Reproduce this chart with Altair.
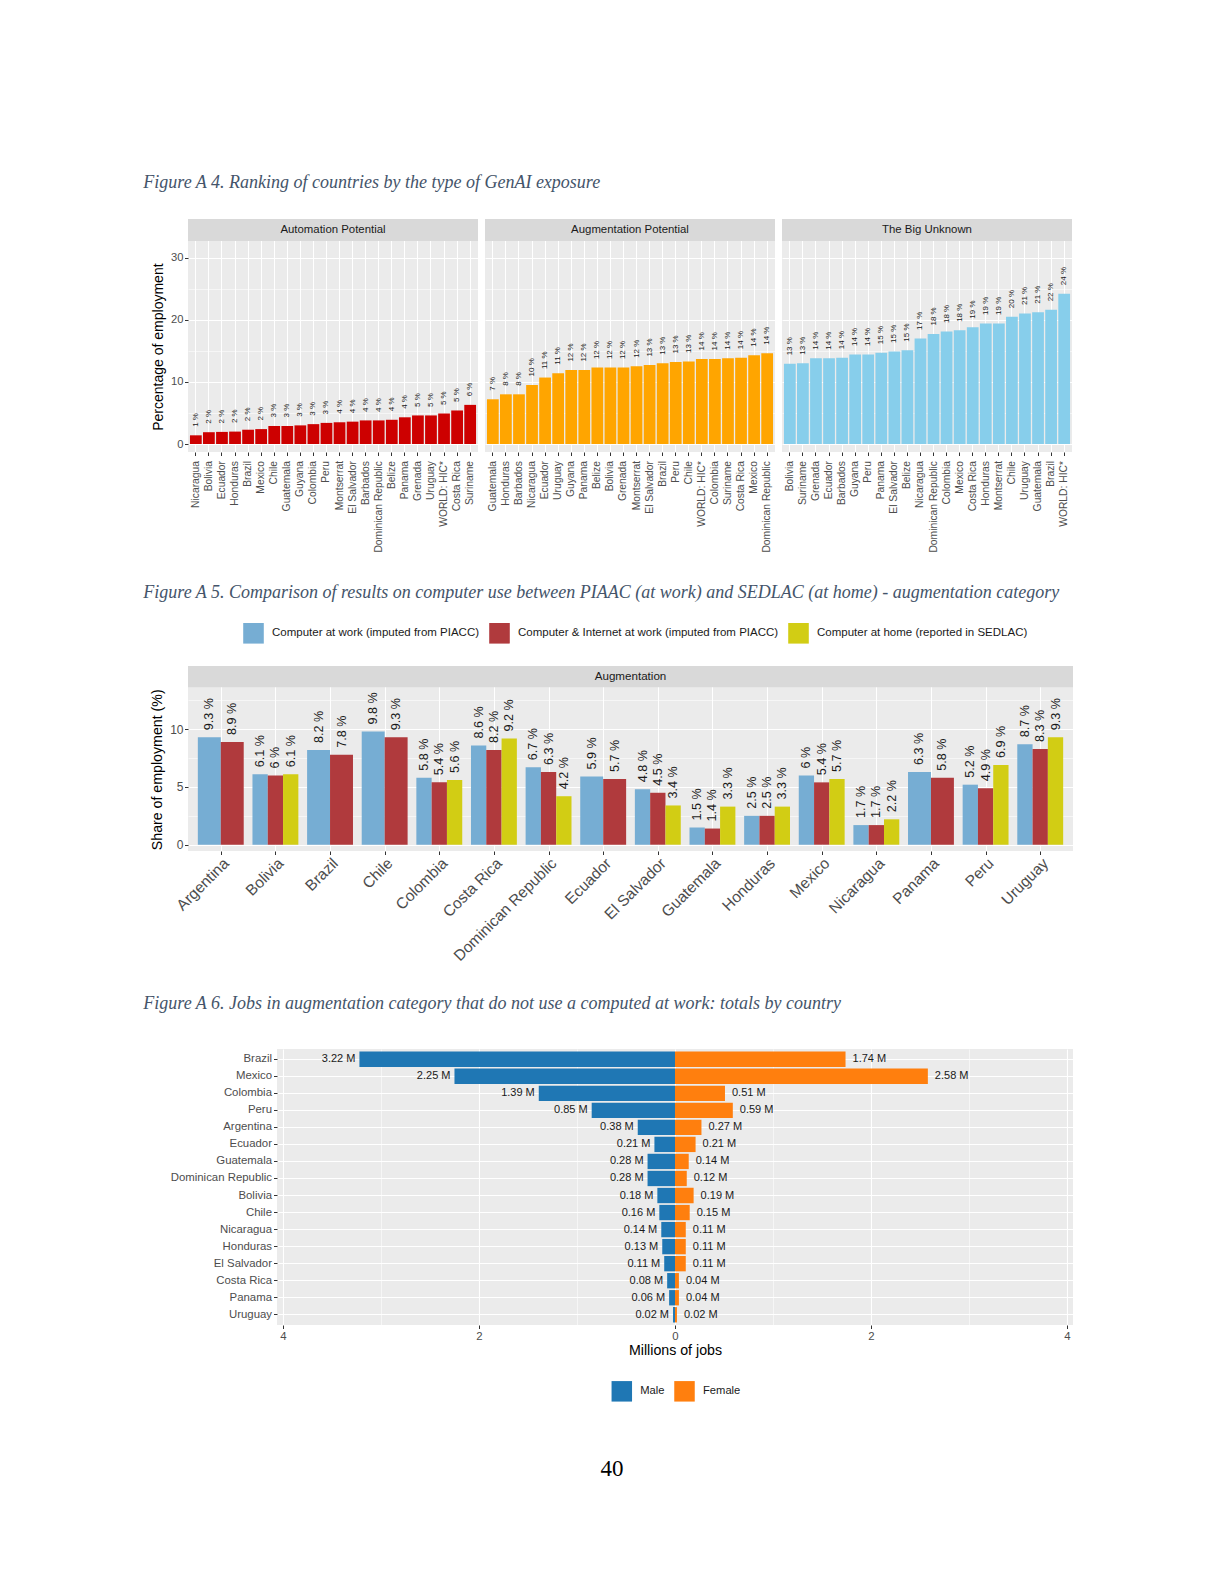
import altair as alt
import pandas as pd

FONT = "Liberation Sans"
SERIF = "Liberation Serif"
CAP_COLOR = "#44546A"
PANEL_BG = "#EBEBEB"
STRIP_BG = "#D9D9D9"
AXIS_TXT = "#4D4D4D"
TICK_COL = "#333333"
TXT = "#1A1A1A"

# ---------------- Figure A4 data ----------------
A4_CAPTION = "Figure A 4. Ranking of countries by the type of GenAI exposure"
A4_PANELS = ["Automation Potential", "Augmentation Potential", "The Big Unknown"]
A4_COLORS = ["#CD0000", "#FFA500", "#87CEEB"]

auto_countries = ["Nicaragua", "Bolivia", "Ecuador", "Honduras", "Brazil", "Mexico", "Chile",
                  "Guatemala", "Guyana", "Colombia", "Peru", "Montserrat", "El Salvador",
                  "Barbados", "Dominican Republic", "Belize", "Panama", "Grenada", "Uruguay",
                  "WORLD: HIC*", "Costa Rica", "Suriname"]
auto_values = [1.4, 1.9, 1.95, 2.0, 2.3, 2.4, 2.9, 2.9, 3.0, 3.2, 3.4, 3.5, 3.6, 3.8, 3.8,
               3.9, 4.3, 4.6, 4.6, 4.9, 5.4, 6.3]
auto_labels = [1, 2, 2, 2, 2, 2, 3, 3, 3, 3, 3, 4, 4, 4, 4, 4, 4, 5, 5, 5, 5, 6]

aug_countries = ["Guatemala", "Honduras", "Barbados", "Nicaragua", "Ecuador", "Uruguay", "Guyana",
                 "Panama", "Belize", "Bolivia", "Grenada", "Montserrat", "El Salvador", "Brazil",
                 "Peru", "Chile", "WORLD: HIC*", "Colombia", "Suriname", "Costa Rica", "Mexico",
                 "Dominican Republic"]
aug_values = [7.2, 8.0, 8.0, 9.5, 10.7, 11.4, 11.9, 11.9, 12.3, 12.3, 12.3, 12.5, 12.7, 13.0,
              13.2, 13.3, 13.7, 13.7, 13.8, 13.9, 14.3, 14.6]
aug_labels = [7, 8, 8, 10, 11, 11, 12, 12, 12, 12, 12, 12, 13, 13, 13, 13, 14, 14, 14, 14, 14, 14]

unk_countries = ["Bolivia", "Suriname", "Grenada", "Ecuador", "Barbados", "Guyana", "Peru",
                 "Panama", "El Salvador", "Belize", "Nicaragua", "Dominican Republic", "Colombia",
                 "Mexico", "Costa Rica", "Honduras", "Montserrat", "Chile", "Uruguay", "Guatemala",
                 "Brazil", "WORLD: HIC*"]
unk_values = [12.9, 13.0, 13.8, 13.8, 13.9, 14.4, 14.4, 14.7, 14.9, 15.1, 17.0, 17.7, 18.1, 18.3,
              18.8, 19.4, 19.4, 20.5, 21.0, 21.2, 21.6, 24.2]
unk_labels = [13, 13, 14, 14, 14, 14, 14, 15, 15, 15, 17, 18, 18, 18, 19, 19, 19, 20, 21, 21, 22, 24]

# ---------------- Figure A5 data ----------------
A5_CAPTION = ("Figure A 5. Comparison of results on computer use between PIAAC (at work) and "
              "SEDLAC (at home) - augmentation category")
A5_STRIP = "Augmentation"
a5_series = ["Computer at work (imputed from PIACC)",
             "Computer & Internet at work (imputed from PIACC)",
             "Computer at home (reported in SEDLAC)"]
a5_colors = ["#76ADD3", "#B03A3D", "#D2CD14"]
a5_countries = ["Argentina", "Bolivia", "Brazil", "Chile", "Colombia", "Costa Rica",
                "Dominican Republic", "Ecuador", "El Salvador", "Guatemala", "Honduras",
                "Mexico", "Nicaragua", "Panama", "Peru", "Uruguay"]
a5_work = [9.3, 6.1, 8.2, 9.8, 5.8, 8.6, 6.7, 5.9, 4.8, 1.5, 2.5, 6.0, 1.7, 6.3, 5.2, 8.7]
a5_internet = [8.9, 6.0, 7.8, 9.3, 5.4, 8.2, 6.3, 5.7, 4.5, 1.4, 2.5, 5.4, 1.7, 5.8, 4.9, 8.3]
a5_home = [None, 6.1, None, None, 5.6, 9.2, 4.2, None, 3.4, 3.3, 3.3, 5.7, 2.2, None, 6.9, 9.3]

# ---------------- Figure A6 data ----------------
A6_CAPTION = ("Figure A 6. Jobs in augmentation category that do not use a computed at work: "
              "totals by country")
a6_countries = ["Brazil", "Mexico", "Colombia", "Peru", "Argentina", "Ecuador", "Guatemala",
                "Dominican Republic", "Bolivia", "Chile", "Nicaragua", "Honduras", "El Salvador",
                "Costa Rica", "Panama", "Uruguay"]
a6_male = [3.22, 2.25, 1.39, 0.85, 0.38, 0.21, 0.28, 0.28, 0.18, 0.16, 0.14, 0.13, 0.11, 0.08,
           0.06, 0.02]
a6_female = [1.74, 2.58, 0.51, 0.59, 0.27, 0.21, 0.14, 0.12, 0.19, 0.15, 0.11, 0.11, 0.11, 0.04,
             0.04, 0.02]
a6_sexes = ["Male", "Female"]
a6_colors = ["#1F77B4", "#FF7F0E"]
PAGE_NUMBER = "40"

dummy = pd.DataFrame({"k": [0]})


def grid_axis(orient, values=None, width=1.1):
    kw = dict(orient=orient, grid=True, gridColor="white", gridWidth=width, labels=False,
              ticks=False, domain=False, title=None)
    if values is not None:
        kw["values"] = values
    return alt.Axis(**kw)


def caption(text, x, y):
    df = pd.DataFrame({"t": [text]})
    return alt.Chart(df).mark_text(align="left", baseline="alphabetic", font=SERIF,
                                   fontStyle="italic", fontSize=18, color=CAP_COLOR).encode(
        x=alt.value(x), y=alt.value(y), text="t:N")


def cut_rule(y1, y2):
    return alt.Chart(dummy).mark_rule(opacity=0, color="white").encode(
        x=alt.value(-60), y=alt.value(y1), y2=alt.value(y2))


# ---------------- caption row for A4 ----------------
row0 = alt.layer(
    caption(A4_CAPTION, -44.7, 37.7), cut_rule(0, 69)
).properties(width=1, height=1,
             view=alt.ViewBackground(fill="white", stroke="white", strokeWidth=0))

# ---------------- A4 panels ----------------
W4, H4, STRIP4 = 290, 233, 22
Y4_DOMAIN = [-1.286, 36.22]


def a4_panel(idx, countries, values, labels):
    df = pd.DataFrame({"country": countries, "value": values,
                       "label": [f"{l} %" for l in labels]})
    xs = alt.Scale(paddingInner=0.1, paddingOuter=0.15)
    ys = alt.Scale(domain=Y4_DOMAIN, nice=False, zero=False)
    xaxis = alt.Axis(title=None, labelAngle=-90, labelAlign="right", labelBaseline="middle",
                     labelFontSize=10.3, labelColor=AXIS_TXT, labelPadding=5, ticks=True,
                     tickSize=3.5, tickColor=TICK_COL, domain=False, grid=True,
                     gridColor="white", gridWidth=1.1, labelLimit=300)
    if idx == 0:
        yaxis = alt.Axis(orient="left", values=[0, 10, 20, 30], grid=True, gridColor="white",
                         gridWidth=1.1, domain=False, ticks=True, tickSize=3.5,
                         tickColor=TICK_COL, labelFontSize=11.2, labelColor=AXIS_TXT,
                         labelPadding=1.5, title="Percentage of employment", titleFontSize=14,
                         titleColor="black", titleFontWeight="normal", titleX=-29.4,
                         titleY=127.6, titleBaseline="middle", titleAlign="center",
                         titleAngle=270)
    else:
        yaxis = alt.Axis(orient="left", values=[0, 10, 20, 30], grid=True, gridColor="white",
                         gridWidth=1.1, domain=False, ticks=False, labels=False, title=None)
    bars = alt.Chart(df).mark_bar(color=A4_COLORS[idx]).encode(
        x=alt.X("country:N", sort=countries, scale=xs, axis=xaxis),
        y=alt.Y("value:Q", scale=ys, axis=yaxis))
    text = alt.Chart(df).mark_text(angle=270, align="left", baseline="middle", dx=8.5,
                                   fontSize=8, color=TXT).encode(
        x=alt.X("country:N", sort=countries, axis=None),
        y=alt.Y("value:Q", axis=grid_axis("right", [5, 15, 25], 0.55)),
        text="label:N")
    sdf = pd.DataFrame({"strip": [A4_PANELS[idx]]})
    srect = alt.Chart(sdf).mark_rect(color=STRIP_BG).encode(
        x=alt.value(0), x2=alt.value(W4), y=alt.value(0), y2=alt.value(STRIP4))
    stext = alt.Chart(sdf).mark_text(fontSize=11.4, color=TXT).encode(
        x=alt.value(W4 / 2), y=alt.value(STRIP4 / 2), text="strip:N")
    layers = [bars, text, srect, stext]
    if idx == 0:
        layers += [cut_rule(0, 351)]
    return alt.layer(*layers).resolve_axis(x="independent", y="independent").properties(
        width=W4, height=H4)


row1 = alt.hconcat(
    a4_panel(0, auto_countries, auto_values, auto_labels),
    a4_panel(1, aug_countries, aug_values, aug_labels),
    a4_panel(2, unk_countries, unk_values, unk_labels),
    spacing=7,
)

# ---------------- A5 ----------------
W5, H5, STRIP5 = 885, 185, 21.3
DODGE = 0.84
rows5 = []
for i, c in enumerate(a5_countries):
    present = [(s, v) for s, v in zip(a5_series, (a5_work[i], a5_internet[i], a5_home[i]))
               if v is not None]
    w = DODGE / len(present)
    for k, (s, v) in enumerate(present):
        xc = i - DODGE / 2 + (k + 0.5) * w
        rows5.append({"country": c, "series": s, "value": v, "x0": xc - w / 2,
                      "x1": xc + w / 2, "xc": xc, "label": f"{v:g} %"})
df5 = pd.DataFrame(rows5)

label_expr5 = "[" + ",".join(f"'{c}'" for c in a5_countries) + "][datum.value]"
x5 = alt.Scale(domain=[-0.6, len(a5_countries) - 0.4], nice=False, zero=False)
y5 = alt.Scale(domain=[-0.545, 15.48], nice=False, zero=False)

bars5 = alt.Chart(df5).mark_rect().encode(
    x=alt.X("x0:Q", scale=x5, axis=alt.Axis(
        values=list(range(len(a5_countries))), labelExpr=label_expr5, labelAngle=-45,
        labelAlign="right", labelBaseline="top", labelFontSize=15.5, labelColor=AXIS_TXT,
        labelPadding=1, ticks=True, tickSize=3.5, tickColor=TICK_COL, domain=False, grid=True,
        gridColor="white", gridWidth=1.1, title=None, labelOverlap=False, labelFlush=False,
        labelLimit=300)),
    x2="x1:Q",
    y=alt.Y("value:Q", scale=y5, axis=alt.Axis(
        orient="left", values=[0, 5, 10], grid=True, gridColor="white", gridWidth=1.1,
        domain=False, ticks=True, tickSize=3.5, tickColor=TICK_COL, labelFontSize=12,
        labelColor=AXIS_TXT, labelPadding=1.5, title="Share of employment (%)",
        titleFontSize=14.2, titleColor="black", titleFontWeight="normal", titleX=-31,
        titleY=103.3, titleBaseline="middle", titleAlign="center", titleAngle=270)),
    y2=alt.datum(0),
    color=alt.Color("series:N", scale=alt.Scale(domain=a5_series, range=a5_colors),
                    legend=alt.Legend(orient="none", legendX=55, legendY=-43.3,
                                      direction="horizontal", title=None, symbolType="square",
                                      symbolSize=424, symbolStrokeWidth=0, labelFontSize=11.5,
                                      labelColor=TXT, labelOffset=8, columnPadding=9,
                                      padding=0, labelLimit=500)),
)
text5 = alt.Chart(df5).mark_text(angle=270, align="left", baseline="middle", dx=7,
                                 fontSize=12.6, color=TXT).encode(
    x=alt.X("xc:Q", axis=None),
    y=alt.Y("value:Q", axis=grid_axis("right", [2.5, 7.5, 12.5], 0.55)),
    text="label:N")
sdf5 = pd.DataFrame({"strip": [A5_STRIP]})
srect5 = alt.Chart(sdf5).mark_rect(color=STRIP_BG).encode(
    x=alt.value(0), x2=alt.value(W5), y=alt.value(0), y2=alt.value(STRIP5))
stext5 = alt.Chart(sdf5).mark_text(fontSize=11.6, color=TXT).encode(
    x=alt.value(W5 / 2), y=alt.value(STRIP5 / 2), text="strip:N")

row2 = alt.layer(
    bars5, text5, srect5, stext5, caption(A5_CAPTION, -44.7, -68), cut_rule(-96, 309)
).resolve_axis(x="independent", y="independent").properties(width=W5, height=H5)

# ---------------- A6 ----------------
W6, H6 = 885, 276
PANEL6_LEFT = 89
rows6 = []
for c, m, f in zip(a6_countries, a6_male, a6_female):
    rows6.append({"country": c, "sex": "Male", "val": -m, "label": f"{m:.2f} M"})
    rows6.append({"country": c, "sex": "Female", "val": f, "label": f"{f:.2f} M"})
df6 = pd.DataFrame(rows6)

x6 = alt.Scale(domain=[-4.969, 4.061], nice=False, zero=False)
y6 = alt.Scale(paddingInner=0.1, paddingOuter=0.15)

bars6 = alt.Chart(df6).mark_bar().encode(
    x=alt.X("val:Q", scale=x6, axis=alt.Axis(
        values=[-4, -2, 0, 2, 4], labelExpr="'' + abs(datum.value)", labelFontSize=11.4,
        labelColor=AXIS_TXT, labelPadding=1.5, ticks=True, tickSize=3.5, tickColor=TICK_COL,
        domain=False, grid=True, gridColor="white", gridWidth=1.1, labelFlush=False,
        title="Millions of jobs", titleFontSize=14.2, titleColor="black",
        titleFontWeight="normal", titleX=487, titleY=25.7, titleBaseline="middle",
        titleAlign="center")),
    y=alt.Y("country:N", sort=a6_countries, scale=y6, axis=alt.Axis(
        orient="left", offset=-PANEL6_LEFT, labelFontSize=11.4, labelColor=AXIS_TXT,
        labelPadding=2, ticks=True, tickSize=3.5, tickColor=TICK_COL, domain=False,
        grid=False, title=None, zindex=1, labelLimit=300)),
    color=alt.Color("sex:N", scale=alt.Scale(domain=a6_sexes, range=a6_colors),
                    legend=alt.Legend(orient="none", legendX=423.3, legendY=331.7,
                                      direction="horizontal", title=None, symbolType="square",
                                      symbolSize=420, symbolStrokeWidth=0, labelFontSize=11.2,
                                      labelColor=TXT, labelOffset=8, columnPadding=8.7,
                                      padding=0)),
)
text6m = alt.Chart(df6).transform_filter(alt.datum.sex == "Male").mark_text(
    align="right", baseline="middle", dx=-4, fontSize=11, color=TXT).encode(
    x=alt.X("val:Q", axis=grid_axis("top", [-3, -1, 1, 3], 0.55)),
    y=alt.Y("country:N", sort=a6_countries, axis=grid_axis("right", None, 1.1)),
    text="label:N")
text6f = alt.Chart(df6).transform_filter(alt.datum.sex == "Female").mark_text(
    align="left", baseline="middle", dx=7, fontSize=11, color=TXT).encode(
    x=alt.X("val:Q", axis=None),
    y=alt.Y("country:N", sort=a6_countries, axis=None),
    text="label:N")
cover6 = alt.Chart(dummy).mark_rect(color="white").encode(
    x=alt.value(0), x2=alt.value(PANEL6_LEFT), y=alt.value(0), y2=alt.value(H6))
pnum = alt.Chart(pd.DataFrame({"t": [PAGE_NUMBER]})).mark_text(
    align="center", baseline="alphabetic", font=SERIF, fontSize=23, color="black").encode(
    x=alt.value(424), y=alt.value(427.4), text="t:N")

row3 = alt.layer(
    bars6, text6m, text6f, cover6, caption(A6_CAPTION, -44.7, -40.3), pnum, cut_rule(-74, 451)
).resolve_axis(x="independent", y="independent").properties(width=W6, height=H6)

chart = alt.vconcat(row0, row1, row2, row3, spacing=0).resolve_scale(
    color="independent").resolve_legend(color="independent").properties(
    padding={"left": 120, "top": 142, "right": 10, "bottom": 10}
).configure(font=FONT).configure_view(strokeWidth=0, fill=PANEL_BG)

chart.save("out.html", embed_options={"renderer": "svg", "actions": False})
